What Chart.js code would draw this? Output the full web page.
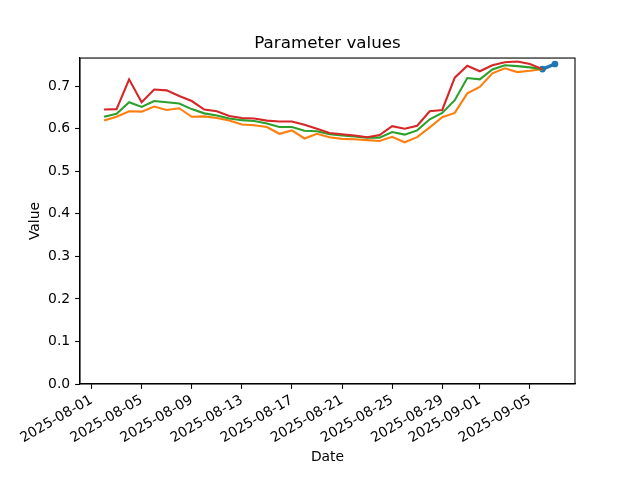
<!DOCTYPE html>
<html>
<head>
<meta charset="utf-8">
<script src="https://cdn.jsdelivr.net/npm/chart.js@4.4.1/dist/chart.umd.min.js"></script>
<style>
  html, body { margin: 0; padding: 0; background: #fff; }
  canvas { display: block; }
</style>
</head>
<body>
<canvas id="grafico" width="640" height="480"></canvas>
<script>
// --- dados ---
const dates = [
  '2025-08-02', '2025-08-03', '2025-08-04', '2025-08-05', '2025-08-06', '2025-08-07',
  '2025-08-08', '2025-08-09', '2025-08-10', '2025-08-11', '2025-08-12', '2025-08-13',
  '2025-08-14', '2025-08-15', '2025-08-16', '2025-08-17', '2025-08-18', '2025-08-19',
  '2025-08-20', '2025-08-21', '2025-08-22', '2025-08-23', '2025-08-24', '2025-08-25',
  '2025-08-26', '2025-08-27', '2025-08-28', '2025-08-29', '2025-08-30', '2025-08-31',
  '2025-09-01', '2025-09-02', '2025-09-03', '2025-09-04', '2025-09-05', '2025-09-06'
];
const redValues = [
  0.645, 0.646, 0.716, 0.662, 0.692, 0.690, 0.677, 0.665, 0.645, 0.641, 0.630, 0.625,
  0.624, 0.619, 0.617, 0.617, 0.609, 0.600, 0.590, 0.587, 0.584, 0.580, 0.585, 0.606,
  0.600, 0.607, 0.641, 0.644, 0.720, 0.748, 0.735, 0.749, 0.756, 0.758, 0.752, 0.740
];
const greenValues = [
  0.628, 0.635, 0.662, 0.651, 0.665, 0.662, 0.659, 0.646, 0.636, 0.631, 0.624, 0.620,
  0.618, 0.612, 0.604, 0.604, 0.595, 0.594, 0.587, 0.584, 0.582, 0.579, 0.579, 0.592,
  0.586, 0.596, 0.622, 0.637, 0.667, 0.719, 0.716, 0.739, 0.749, 0.747, 0.744, 0.740
];
const orangeValues = [
  0.619, 0.628, 0.641, 0.640, 0.652, 0.644, 0.648, 0.628, 0.629, 0.625, 0.619, 0.610,
  0.608, 0.604, 0.588, 0.596, 0.577, 0.588, 0.580, 0.576, 0.575, 0.573, 0.571, 0.581,
  0.568, 0.580, 0.603, 0.627, 0.637, 0.683, 0.698, 0.730, 0.742, 0.733, 0.736, 0.740
];
const blueDates = ['2025-09-06', '2025-09-07'];
const blueValues = [0.740, 0.752];

const tickDates = [
  '2025-08-01', '2025-08-05', '2025-08-09', '2025-08-13', '2025-08-17',
  '2025-08-21', '2025-08-25', '2025-08-29', '2025-09-01', '2025-09-05'
];
const yTicks = [0, 0.1, 0.2, 0.3, 0.4, 0.5, 0.6, 0.7];

// dias contados a partir de 2025-08-01
const base = Date.UTC(2025, 7, 1);
const toDay = s => {
  const [y, m, d] = s.split('-').map(Number);
  return (Date.UTC(y, m - 1, d) - base) / 86400000;
};
const pares = (ds, vs) => ds.map((d, i) => ({ x: toDay(d), y: vs[i] }));

const tickDays = tickDates.map(toDay);
const font = { family: 'DejaVu Sans', size: 13.9 };

// moldura completa do eixo (estilo matplotlib)
const moldura = {
  id: 'moldura',
  afterDraw(chart) {
    const { ctx, chartArea: a } = chart;
    ctx.save();
    ctx.strokeStyle = '#000';
    ctx.lineWidth = 1.1;
    ctx.strokeRect(a.left, a.top, a.right - a.left, a.bottom - a.top);
    ctx.restore();
  }
};

const linha = (label, cor, data, largura) => ({
  label, data,
  borderColor: cor, backgroundColor: cor,
  borderWidth: largura || 2.1,
  pointRadius: 0,
  tension: 0,
  fill: false
});

new Chart(document.getElementById('grafico').getContext('2d'), {
  type: 'line',
  data: {
    datasets: [
      linha('C3', '#d62728', pares(dates, redValues)),
      linha('C2', '#2ca02c', pares(dates, greenValues)),
      linha('C1', '#ff7f0e', pares(dates, orangeValues)),
      Object.assign(linha('C0', '#1f77b4', pares(blueDates, blueValues), 3.5), { pointRadius: 1.6, borderCapStyle: 'round' })
    ]
  },
  options: {
    responsive: false,
    animation: false,
    devicePixelRatio: 1,
    layout: { padding: { left: 0, right: 65, top: 0, bottom: 0 } },
    plugins: {
      legend: { display: false },
      tooltip: { enabled: false },
      title: {
        display: true,
        fullSize: false,
        text: 'Parameter values',
        color: '#000',
        font: { family: 'DejaVu Sans', size: 16.7, weight: 'normal' },
        padding: { top: 34, bottom: 4 }
      }
    },
    scales: {
      x: {
        type: 'linear',
        min: -0.92,
        max: 38.6,
        afterBuildTicks: s => { s.ticks = tickDays.map(v => ({ value: v })); },
        afterFit: s => { s.height = 96; },
        ticks: {
          color: '#000',
          font,
          padding: 3,
          minRotation: 30,
          maxRotation: 30,
          autoSkip: false,
          callback: v => tickDates[tickDays.indexOf(v)]
        },
        grid: { drawOnChartArea: false, tickLength: 4.9, tickColor: '#000', tickWidth: 1.1 },
        border: { color: '#000', width: 1.1 },
        title: { display: true, text: 'Date', color: '#000', font, padding: { top: 0, bottom: 14.7 } }
      },
      y: {
        min: 0,
        max: 0.766,
        afterBuildTicks: s => { s.ticks = yTicks.map(v => ({ value: v })); },
        afterFit: s => { s.width = 80; },
        ticks: {
          color: '#000',
          font,
          padding: 4.9,
          callback: v => v.toFixed(1)
        },
        grid: { drawOnChartArea: false, tickLength: 4.9, tickColor: '#000', tickWidth: 1.1 },
        border: { color: '#000', width: 1.1 },
        title: { display: true, text: 'Value', color: '#000', font, padding: { top: 26.7, bottom: 0 } }
      }
    }
  },
  plugins: [moldura]
});
</script>
</body>
</html>
